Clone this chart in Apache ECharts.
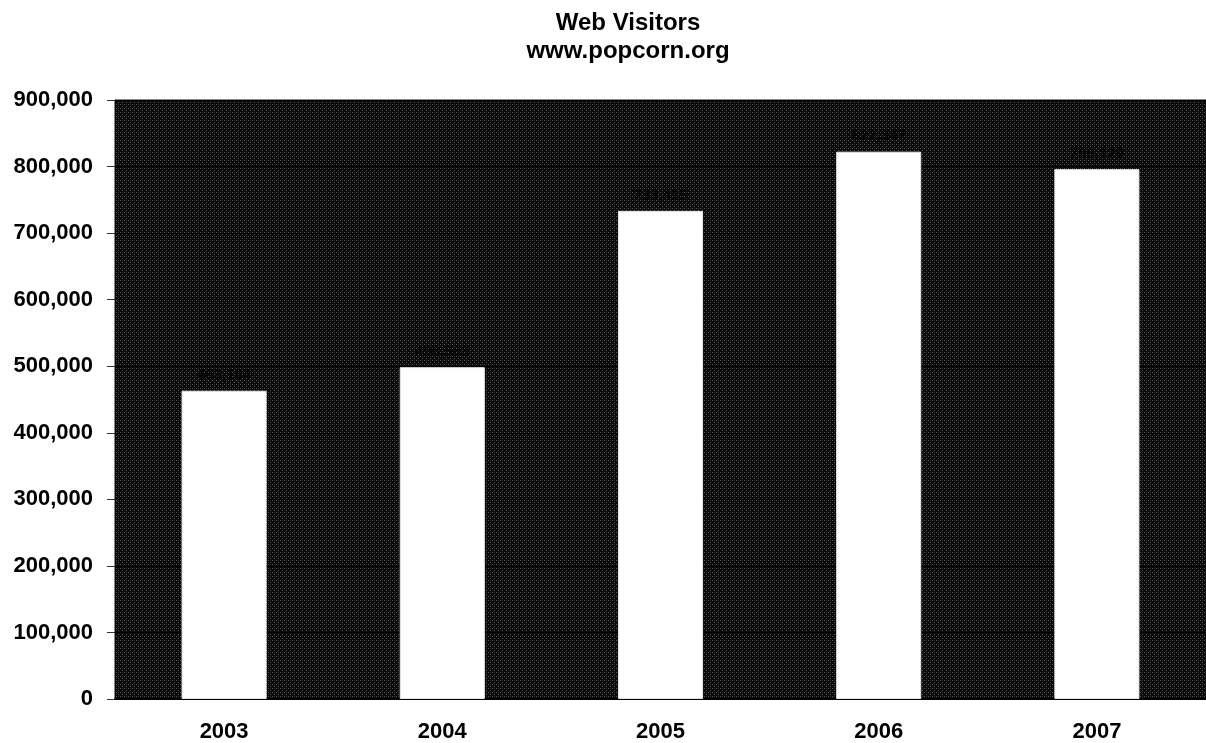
<!DOCTYPE html>
<html>
<head>
<meta charset="utf-8">
<script src="https://cdn.jsdelivr.net/npm/echarts@6/dist/echarts.min.js"></script>
<style>
  html, body { margin: 0; padding: 0; background: #ffffff; }
  #chart { width: 1206px; height: 743px; }
</style>
</head>
<body>
<div id="chart"></div>
<script>
// Yearly visitor totals for www.popcorn.org
const years = ['2003', '2004', '2005', '2006', '2007'];
const visitors = [463184, 498563, 733415, 822347, 796129];
const yTicks = [0, 100000, 200000, 300000, 400000, 500000, 600000, 700000, 800000, 900000];

const fmt = v => v.toLocaleString('en-US');

// Dark stippled fill for the plot area: black base with a fine grid of grey dots
function stipple() {
  const c = document.createElement('canvas');
  c.width = 4; c.height = 4;
  const g = c.getContext('2d');
  g.fillStyle = '#0a0a0a';
  g.fillRect(0, 0, 4, 4);
  g.fillStyle = '#555555';
  g.fillRect(0, 0, 1, 1);
  g.fillRect(2, 2, 1, 1);
  g.fillStyle = '#2a2a2a';
  g.fillRect(2, 0, 1, 1);
  return c;
}

const font = 'Liberation Sans, Arial, sans-serif';
const chart = echarts.init(document.getElementById('chart'), null, { renderer: 'canvas' });

chart.setOption({
  backgroundColor: '#ffffff',
  animation: false,
  title: {
    text: 'Web Visitors\nwww.popcorn.org',
    left: 623,
    textAlign: 'center',
    top: 4,
    textStyle: {
      fontFamily: font,
      fontWeight: 'bold',
      fontSize: 24,
      lineHeight: 28,
      color: '#000'
    }
  },
  grid: {
    left: 115,
    right: -3,
    top: 100,
    bottom: 43,
    show: true,
    backgroundColor: { image: stipple(), repeat: 'repeat' },
    borderColor: '#111',
    borderWidth: 1
  },
  xAxis: {
    type: 'category',
    data: years,
    axisLine: { show: true, lineStyle: { color: '#000', width: 2 } },
    axisTick: { show: false },
    axisLabel: {
      margin: 22,
      color: '#000',
      fontFamily: font,
      fontWeight: 'bold',
      fontSize: 22
    }
  },
  yAxis: {
    type: 'value',
    min: yTicks[0],
    max: yTicks[yTicks.length - 1],
    interval: yTicks[1] - yTicks[0],
    axisLine: { show: true, lineStyle: { color: '#000', width: 1 } },
    axisTick: { show: true, inside: false, length: 8, lineStyle: { color: '#333' } },
    splitLine: { show: true, lineStyle: { color: '#000', width: 1 } },
    axisLabel: {
      margin: 22,
      color: '#000',
      fontFamily: font,
      fontWeight: 'bold',
      fontSize: 22,
      formatter: v => fmt(v)
    }
  },
  series: [{
    type: 'bar',
    data: visitors,
    barWidth: '39%',
    itemStyle: { color: '#ffffff', borderColor: '#e6e6e6', borderWidth: 1 },
    label: {
      show: true,
      position: 'top',
      distance: 8,
      color: '#050505',
      fontFamily: font,
      fontWeight: 'bold',
      fontSize: 15,
      formatter: p => fmt(p.value)
    }
  }]
});
</script>
</body>
</html>
